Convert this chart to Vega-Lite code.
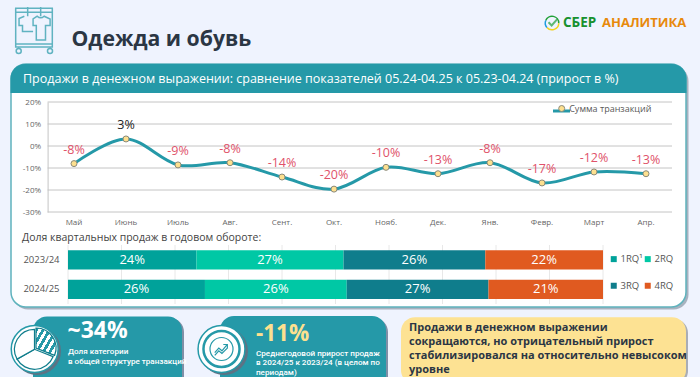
{"$schema":"https://vega.github.io/schema/vega-lite/v6.json","width":700,"height":377,"autosize":{"type":"none"},"padding":0,"background":"#eff3fe","config":{"view":{"stroke":null},"font":"Open Sans"},"data":{"values":[{}]},"resolve":{"scale":{"x":"independent","y":"independent","color":"independent"},"axis":{"x":"independent","y":"independent"},"legend":{"color":"independent"}},"layer":[
{"mark":{"type":"point","shape":"M-.796,-.943H.796V.74H-.796ZM-.796,-.77H.796M-.796,.61H.796M-.775,.913a.11,.11 0 1 0 .22,0a.11,.11 0 1 0 -.22,0M.586,.913a.11,.11 0 1 0 .22,0a.11,.11 0 1 0 -.22,0M-.275,-1V-.6M.29,-1V-.6M-.42,-.6L-.65,-.5V-.2H-.5V.07H-.04M.14,-.6L-.04,-.48V-.2H.1V.43H.5V-.2H.7V-.48L.44,-.6Q.29,-.46 .14,-.6Z","size":2116,"filled":false,"stroke":"#2599a8","strokeWidth":1.5},"encoding":{"x":{"value":34},"y":{"value":30}}},
{"mark":{"type":"text","text":"Одежда и обувь","align":"left","baseline":"middle","font":"Open Sans","fontWeight":"bold","fontSize":21.2,"fill":"#2b3644"},"encoding":{"x":{"value":71.5},"y":{"value":40}}},
{"mark":{"type":"arc","theta":-1.2,"theta2":1.6,"outerRadius":7.5,"innerRadius":6,"fill":"#21a038"},"encoding":{"x":{"value":552},"y":{"value":23}}},
{"mark":{"type":"arc","theta":1.6,"theta2":4,"outerRadius":7.5,"innerRadius":6,"fill":"#f2d21e"},"encoding":{"x":{"value":552},"y":{"value":23}}},
{"mark":{"type":"arc","theta":4,"theta2":5.1,"outerRadius":7.5,"innerRadius":6,"fill":"#1e9be0"},"encoding":{"x":{"value":552},"y":{"value":23}}},
{"mark":{"type":"point","shape":"M-.5,-.1L-.05,.35L.75,-.55","size":196,"filled":false,"stroke":"#21a038","strokeWidth":2},"encoding":{"x":{"value":552},"y":{"value":23}}},
{"mark":{"type":"text","text":"СБЕР","align":"left","baseline":"middle","fontWeight":"bold","fontSize":13.5,"fill":"#17912f"},"encoding":{"x":{"value":563},"y":{"value":23}}},
{"mark":{"type":"text","text":"АНАЛИТИКА","align":"left","baseline":"middle","fontWeight":"bold","fontSize":13,"fill":"#e8890c"},"encoding":{"x":{"value":602},"y":{"value":23}}},
{"mark":{"type":"rect","cornerRadius":15,"fill":"#a8b2bf"},"encoding":{"x":{"value":13},"x2":{"value":688.5},"y":{"value":66},"y2":{"value":309.5}}},
{"mark":{"type":"rect","cornerRadius":15,"fill":"#ffffff","stroke":"#5fb3bd","strokeWidth":1.5},"encoding":{"x":{"value":11},"x2":{"value":686},"y":{"value":64},"y2":{"value":307}}},
{"mark":{"type":"rect","cornerRadiusTopLeft":15,"cornerRadiusTopRight":15,"fill":"#2599a8"},"encoding":{"x":{"value":10.5},"x2":{"value":686.5},"y":{"value":64},"y2":{"value":93}}},
{"mark":{"type":"text","text":"Продажи в денежном выражении: сравнение показателей 05.24-04.25 к 05.23-04.24 (прирост в %)","align":"left","baseline":"middle","fontSize":12.5,"fill":"#ffffff"},"encoding":{"x":{"value":23},"y":{"value":79}}},
{"mark":{"type":"text","text":"Доля квартальных продаж в годовом обороте:","align":"left","baseline":"middle","fontSize":10.5,"fill":"#444444"},"encoding":{"x":{"value":22},"y":{"value":238}}},
{"mark":{"type":"rule","stroke":"#2599a8","strokeWidth":3},"encoding":{"x":{"value":553},"x2":{"value":570},"y":{"value":111}}},
{"data":{"values":[{"v":-30},{"v":-20},{"v":-10},{"v":0},{"v":10},{"v":20}]},"layer":[
{"mark":{"type":"rule","stroke":"#c4c4c4","strokeWidth":1},"encoding":{"y":{"field":"v","type":"quantitative","scale":{"domain":[-30,20],"range":[212,102]},"axis":{"orient":"left","offset":-47.6,"zindex":1,"values":[-30,-20,-10,0,10,20],"labelExpr":"datum.value+'%'","title":null,"grid":false,"ticks":false,"domainColor":"#c4c4c4","labelFontSize":8,"labelColor":"#666666","labelPadding":7}},"x":{"value":47.6},"x2":{"value":672}}},
{"data":{"name":"sales","values":[{"month":"Май","v":-8,"label":"-8%","series":"Сумма транзакций"},{"month":"Июнь","v":3.2,"label":"3%","series":"Сумма транзакций"},{"month":"Июль","v":-8.6,"label":"-9%","series":"Сумма транзакций"},{"month":"Авг.","v":-7.6,"label":"-8%","series":"Сумма транзакций"},{"month":"Сент.","v":-14.1,"label":"-14%","series":"Сумма транзакций"},{"month":"Окт.","v":-19.6,"label":"-20%","series":"Сумма транзакций"},{"month":"Нояб.","v":-9.7,"label":"-10%","series":"Сумма транзакций"},{"month":"Дек.","v":-12.6,"label":"-13%","series":"Сумма транзакций"},{"month":"Янв.","v":-7.6,"label":"-8%","series":"Сумма транзакций"},{"month":"Февр.","v":-16.8,"label":"-17%","series":"Сумма транзакций"},{"month":"Март","v":-11.8,"label":"-12%","series":"Сумма транзакций"},{"month":"Апр.","v":-12.6,"label":"-13%","series":"Сумма транзакций"}]},
"encoding":{"x":{"field":"month","type":"nominal","sort":null,"scale":{"type":"band","domain":["Май","Июнь","Июль","Авг.","Сент.","Окт.","Нояб.","Дек.","Янв.","Февр.","Март","Апр."],"range":[48,672],"paddingInner":0,"paddingOuter":0},"axis":{"orient":"bottom","offset":-165,"zindex":1,"title":null,"ticks":false,"domain":false,"labelAngle":0,"labelFontSize":8,"labelColor":"#666666","labelPadding":6}},"y":{"field":"v","type":"quantitative"}},
"layer":[
{"mark":{"type":"line","interpolate":"cardinal","tension":0,"strokeWidth":3,"stroke":"#2599a8"}},
{"mark":{"type":"point","filled":true,"size":36,"fill":"#fde08f","stroke":"#8a8a7a","strokeWidth":1,"opacity":1},"encoding":{"color":{"field":"series","type":"nominal","scale":{"range":["#fde08f"]},"legend":{"orient":"none","legendX":557.2,"legendY":104,"title":null,"zindex":1,"symbolType":"circle","symbolSize":36,"symbolStrokeColor":"#8a8a7a","symbolStrokeWidth":1,"labelFontSize":9,"labelOffset":3,"labelColor":"#595959"}}}},
{"mark":{"type":"text","fontSize":12.5,"dy":-14},"encoding":{"text":{"field":"label"},"color":{"condition":{"test":"datum.v<0","value":"#e0526a"},"value":"#222222"}}}
]}
]},
{"data":{"values":[{"v":0},{"v":10},{"v":20},{"v":30},{"v":40},{"v":50},{"v":60},{"v":70},{"v":80},{"v":90},{"v":100}]},"layer":[
{"mark":{"type":"rule","stroke":"#e8e8e8","strokeWidth":1},"encoding":{"x":{"field":"v","type":"quantitative","scale":{"domain":[0,100],"range":[68,603]},"axis":null},"y":{"value":245},"y2":{"value":304}}},
{"data":{"values":[{"year":"2023/24","q":"1RQ¹","share":24,"label":"24%"},{"year":"2023/24","q":"2RQ","share":27.5,"label":"27%"},{"year":"2023/24","q":"3RQ","share":26.5,"label":"26%"},{"year":"2023/24","q":"4RQ","share":22,"label":"22%"},{"year":"2024/25","q":"1RQ¹","share":25.6,"label":"26%"},{"year":"2024/25","q":"2RQ","share":26.5,"label":"26%"},{"year":"2024/25","q":"3RQ","share":26.5,"label":"27%"},{"year":"2024/25","q":"4RQ","share":21.4,"label":"21%"}]},
"encoding":{"y":{"field":"year","type":"nominal","scale":{"type":"band","range":[245.3,304],"paddingInner":0.343,"paddingOuter":0.17},"axis":{"orient":"left","offset":-68,"zindex":1,"title":null,"ticks":false,"domain":false,"labelFontSize":9.5,"labelColor":"#555555","labelPadding":9}},"order":{"field":"q"}},
"layer":[
{"mark":{"type":"bar"},"encoding":{"x":{"field":"share","type":"quantitative","stack":"zero"},"color":{"field":"q","type":"nominal","scale":{"domain":["1RQ¹","2RQ","3RQ","4RQ"],"range":["#00a29a","#00c8a5","#0f7d8c","#e05a20"]},"legend":{"orient":"none","direction":"horizontal","legendX":609,"legendY":254,"title":null,"columns":2,"zindex":1,"symbolType":"square","symbolSize":36,"columnPadding":-10,"rowPadding":16,"labelFontSize":9.5,"labelOffset":2,"labelColor":"#555555","symbolOpacity":1}}}},
{"mark":{"type":"text","fontSize":13,"fill":"#ffffff"},"encoding":{"x":{"field":"share","type":"quantitative","stack":"zero","bandPosition":0.5},"text":{"field":"label"}}}
]}
]},
{"mark":{"type":"rect","cornerRadius":14,"fill":"#7f8fa6"},"encoding":{"x":{"value":35},"x2":{"value":184},"y":{"value":318},"y2":{"value":392}}},
{"mark":{"type":"rect","cornerRadius":14,"fill":"#2599a8"},"encoding":{"x":{"value":33},"x2":{"value":182},"y":{"value":316.5},"y2":{"value":390}}},
{"mark":{"type":"point","filled":true,"shape":"circle","size":2300,"fill":"#5d7384","opacity":1},"encoding":{"x":{"value":37},"y":{"value":351}}},
{"mark":{"type":"point","filled":true,"shape":"circle","size":2200,"fill":"#ffffff","stroke":"#2599a8","strokeWidth":1.5,"opacity":1},"encoding":{"x":{"value":34.7},"y":{"value":349}}},
{"mark":{"type":"arc","theta":0,"theta2":1.95,"outerRadius":20,"innerRadius":0,"stroke":"#0f7d8c","strokeWidth":1.2,"fill":{"gradient":"linear","x1":0,"y1":0,"x2":1,"y2":0.8,"stops":[{"offset":0,"color":"#2599a8"},{"offset":0.1,"color":"#2599a8"},{"offset":0.1,"color":"#ffffff"},{"offset":0.2,"color":"#ffffff"},{"offset":0.2,"color":"#2599a8"},{"offset":0.3,"color":"#2599a8"},{"offset":0.3,"color":"#ffffff"},{"offset":0.4,"color":"#ffffff"},{"offset":0.4,"color":"#2599a8"},{"offset":0.5,"color":"#2599a8"},{"offset":0.5,"color":"#ffffff"},{"offset":0.6,"color":"#ffffff"},{"offset":0.6,"color":"#2599a8"},{"offset":0.7,"color":"#2599a8"},{"offset":0.7,"color":"#ffffff"},{"offset":0.8,"color":"#ffffff"},{"offset":0.8,"color":"#2599a8"},{"offset":0.9,"color":"#2599a8"},{"offset":0.9,"color":"#ffffff"},{"offset":1,"color":"#ffffff"}]}},"encoding":{"x":{"value":36},"y":{"value":348}}},
{"mark":{"type":"arc","theta":1.95,"theta2":4.2,"outerRadius":20,"innerRadius":0,"stroke":"#0f7d8c","strokeWidth":1.2,"fill":"#ffffff"},"encoding":{"x":{"value":34.5},"y":{"value":349.3}}},
{"mark":{"type":"arc","theta":4.2,"theta2":6.283,"outerRadius":20,"innerRadius":0,"stroke":"#0f7d8c","strokeWidth":1.2,"fill":"#ffffff"},"encoding":{"x":{"value":34.5},"y":{"value":349.3}}},
{"mark":{"type":"text","text":"~34%","align":"left","baseline":"middle","fontWeight":"bold","fontSize":23,"fill":"#ffffff"},"encoding":{"x":{"value":67.5},"y":{"value":331}}},
{"mark":{"type":"text","text":"Доля категории","align":"left","baseline":"middle","font":"Roboto","fontSize":8.1,"fontWeight":500,"fill":"#ffffff"},"encoding":{"x":{"value":68},"y":{"value":352}}},
{"mark":{"type":"text","text":"в общей структуре транзакций","align":"left","baseline":"middle","font":"Roboto","fontSize":8.1,"fontWeight":500,"fill":"#ffffff"},"encoding":{"x":{"value":68},"y":{"value":362}}},
{"mark":{"type":"rect","cornerRadius":14,"fill":"#7f8fa6"},"encoding":{"x":{"value":222},"x2":{"value":388},"y":{"value":318},"y2":{"value":392}}},
{"mark":{"type":"rect","cornerRadius":14,"fill":"#2599a8"},"encoding":{"x":{"value":220},"x2":{"value":386},"y":{"value":316},"y2":{"value":390}}},
{"mark":{"type":"point","filled":true,"shape":"circle","size":2300,"fill":"#5d7384","opacity":1},"encoding":{"x":{"value":224},"y":{"value":351}}},
{"mark":{"type":"point","filled":true,"shape":"circle","size":2200,"fill":"#ffffff","stroke":"#2599a8","strokeWidth":1.5,"opacity":1},"encoding":{"x":{"value":221.5},"y":{"value":349}}},
{"mark":{"type":"point","filled":false,"shape":"circle","size":1300,"stroke":"#2599a8","strokeWidth":2.5,"opacity":1},"encoding":{"x":{"value":221.5},"y":{"value":349}}},
{"mark":{"type":"point","filled":false,"shape":"circle","size":530,"stroke":"#2599a8","strokeWidth":1.2,"opacity":1},"encoding":{"x":{"value":221.5},"y":{"value":349}}},
{"mark":{"type":"point","filled":false,"shape":"M-.75,.4L-.3,-.1L.05,.2L.6,-.45M.2,-.5H.65V-.05M-.75,.7L-.3,.2L.05,.5L.7,-.15","size":324,"stroke":"#2599a8","strokeWidth":1.2,"opacity":1},"encoding":{"x":{"value":221.5},"y":{"value":349}}},
{"mark":{"type":"text","text":"-11%","align":"left","baseline":"middle","fontWeight":"bold","fontSize":22.5,"fill":"#fde08f"},"encoding":{"x":{"value":256},"y":{"value":334}}},
{"mark":{"type":"text","text":"Среднегодовой прирост продаж","align":"left","baseline":"middle","font":"Roboto","fontSize":8.1,"fontWeight":500,"fill":"#ffffff"},"encoding":{"x":{"value":256},"y":{"value":353.7}}},
{"mark":{"type":"text","text":"в 2024/25 к 2023/24 (в целом по","align":"left","baseline":"middle","font":"Roboto","fontSize":8.1,"fontWeight":500,"fill":"#ffffff"},"encoding":{"x":{"value":256},"y":{"value":363.3}}},
{"mark":{"type":"text","text":"периодам)","align":"left","baseline":"middle","font":"Roboto","fontSize":8.1,"fontWeight":500,"fill":"#ffffff"},"encoding":{"x":{"value":256},"y":{"value":373}}},
{"mark":{"type":"rect","cornerRadius":14,"fill":"#a9adb5"},"encoding":{"x":{"value":402},"x2":{"value":688},"y":{"value":319},"y2":{"value":385}}},
{"mark":{"type":"rect","cornerRadius":14,"fill":"#fde293"},"encoding":{"x":{"value":401},"x2":{"value":686},"y":{"value":317.3},"y2":{"value":384}}},
{"mark":{"type":"text","text":"Продажи в денежном выражении","align":"left","baseline":"middle","fontWeight":"bold","fontSize":11,"fill":"#2b3644"},"encoding":{"x":{"value":409},"y":{"value":328.3}}},
{"mark":{"type":"text","text":"сокращаются, но отрицательный прирост","align":"left","baseline":"middle","fontWeight":"bold","fontSize":11,"fill":"#2b3644"},"encoding":{"x":{"value":409},"y":{"value":342}}},
{"mark":{"type":"text","text":"стабилизировался на относительно невысоком","align":"left","baseline":"middle","fontWeight":"bold","fontSize":11,"fill":"#2b3644"},"encoding":{"x":{"value":409},"y":{"value":356}}},
{"mark":{"type":"text","text":"уровне","align":"left","baseline":"middle","fontWeight":"bold","fontSize":11,"fill":"#2b3644"},"encoding":{"x":{"value":409},"y":{"value":369.7}}}
]}
